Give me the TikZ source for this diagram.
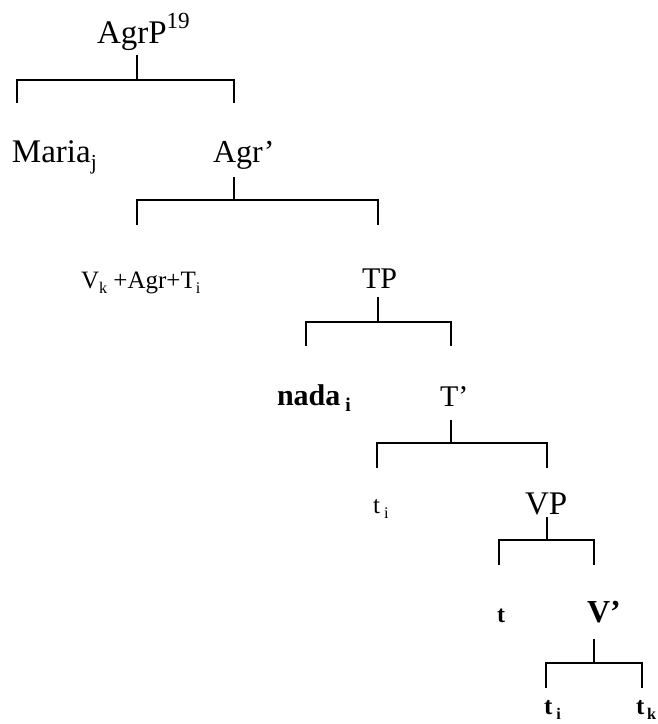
\documentclass[tikz,border=0pt]{standalone}
\usepackage{fontspec}
\setmainfont{Liberation Serif}
\newcommand{\mysub}[1]{\raisebox{-0.22em}{\scalebox{0.65}{#1}}}
\newcommand{\mysup}[1]{\raisebox{0.45em}{\scalebox{0.7}{#1}}}
\begin{document}
\begin{tikzpicture}[x=1pt,y=-1pt,
  lbl/.style={anchor=base west,inner sep=0pt,outer sep=0pt},
  br/.style={line width=1.5pt,line cap=butt,line join=miter}]
\useasboundingbox (0,0) rectangle (657,724);
% labels
\node[lbl,font=\fontsize{33}{36}\selectfont] (agrp) at (97,43) {AgrP\mysup{19}};
\node[lbl,font=\fontsize{33}{36}\selectfont] (maria) at (12,162) {Maria\mysub{j}};
\node[lbl,font=\fontsize{32}{35}\selectfont] (agrbar) at (213,162) {Agr’};
\node[lbl,font=\fontsize{25}{28}\selectfont] (vk) at (81,288) {V\mysub{k} +Agr+T\mysub{i}};
\node[lbl,font=\fontsize{30}{33}\selectfont] (tp) at (362,288) {TP};
\node[lbl,font=\fontsize{30}{33}\selectfont\bfseries] (nada) at (277,405) {nada\,\mysub{i}};
\node[lbl,font=\fontsize{30}{33}\selectfont] (tbar) at (440,406) {T’};
\node[lbl,font=\fontsize{25}{28}\selectfont] (ti1) at (373,513) {t\,\mysub{i}};
\node[lbl,font=\fontsize{33}{36}\selectfont] (vp) at (525,514) {VP};
\node[lbl,font=\fontsize{24}{27}\selectfont\bfseries] (t) at (497,622) {t};
\node[lbl,font=\fontsize{32}{35}\selectfont\bfseries] (vbar) at (587,622) {V’};
\node[lbl,font=\fontsize{25}{28}\selectfont\bfseries] (ti2) at (544,714) {t\,\mysub{i}};
\node[lbl,font=\fontsize{25}{28}\selectfont\bfseries] (tk) at (636,714) {t\mysub{\,k}};
% bracket coordinates
\coordinate (a-s) at (137,55);  \coordinate (a-m) at (137,80);
\coordinate (a-l) at (17,80);   \coordinate (a-r) at (234,80);
\coordinate (a-lb) at (17,103); \coordinate (a-rb) at (234,103);
\coordinate (b-s) at (234,177); \coordinate (b-m) at (234,200);
\coordinate (b-l) at (137,200); \coordinate (b-r) at (378,200);
\coordinate (b-lb) at (137,225);\coordinate (b-rb) at (378,225);
\coordinate (c-s) at (378,297); \coordinate (c-m) at (378,322);
\coordinate (c-l) at (306,322); \coordinate (c-r) at (451,322);
\coordinate (c-lb) at (306,346);\coordinate (c-rb) at (451,346);
\coordinate (d-s) at (451,420); \coordinate (d-m) at (451,443);
\coordinate (d-l) at (377,443); \coordinate (d-r) at (547,443);
\coordinate (d-lb) at (377,468);\coordinate (d-rb) at (547,468);
\coordinate (e-s) at (547,517); \coordinate (e-m) at (547,540);
\coordinate (e-l) at (499,540); \coordinate (e-r) at (594,540);
\coordinate (e-lb) at (499,565);\coordinate (e-rb) at (594,565);
\coordinate (f-s) at (594,639); \coordinate (f-m) at (594,663);
\coordinate (f-l) at (546,663); \coordinate (f-r) at (642,663);
\coordinate (f-lb) at (546,688);\coordinate (f-rb) at (642,688);
\foreach \p in {a,b,c,d,e,f}{
  \draw[br] (\p-s) -- (\p-m);
  \draw[br] (\p-lb) -- (\p-l) -- (\p-r) -- (\p-rb);
}
\end{tikzpicture}
\end{document}
